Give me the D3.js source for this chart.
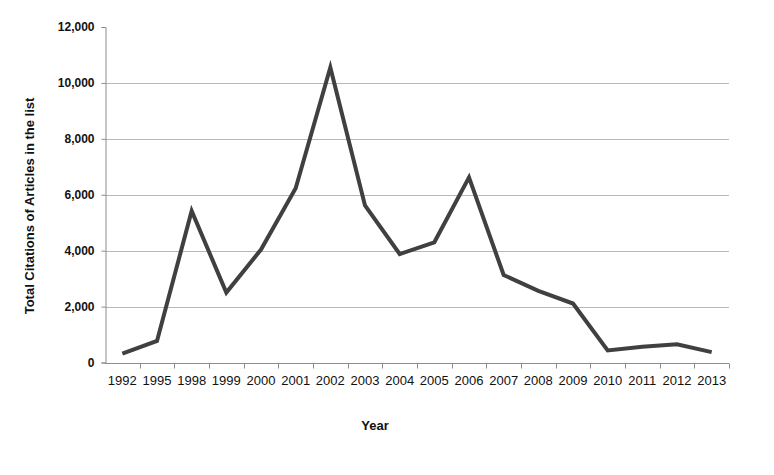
<!DOCTYPE html>
<html>
<head>
<meta charset="utf-8">
<script src="https://cdn.jsdelivr.net/npm/d3@7"></script>
<style>
  body { margin: 0; background: #fff; }
  svg { display: block; font-family: "Liberation Sans", Arial, sans-serif; }
</style>
</head>
<body>
<div class="chart"></div>
<script>
// data
var years = ["1992","1995","1998","1999","2000","2001","2002","2003","2004","2005",
             "2006","2007","2008","2009","2010","2011","2012","2013"];
var citations = [320, 770, 5420, 2500, 4040, 6230, 10550, 5620, 3880, 4300,
                 6620, 3130, 2560, 2110, 430, 560, 650, 370];
var yTicks = [0, 2000, 4000, 6000, 8000, 10000, 12000];

var w = 774, h = 475;
var margin = {left: 105, right: 45, top: 27, bottom: 113};

var svg = d3.select(".chart").append("svg")
  .attr("width", w)
  .attr("height", h);

var x = d3.scaleBand()
  .domain(years)
  .range([margin.left, w - margin.right]);

var y = d3.scaleLinear()
  .domain([0, 12000])
  .range([h - margin.bottom + 0.5, margin.top]);

// gridlines
svg.append("g")
  .selectAll("line")
  .data(yTicks.filter(function(d){ return d > 0 && d < 12000; }))
  .enter()
  .append("line")
  .attr("x1", margin.left)
  .attr("x2", w - margin.right)
  .attr("y1", function(d){ return Math.round(y(d)) + 0.5; })
  .attr("y2", function(d){ return Math.round(y(d)) + 0.5; })
  .attr("stroke", "#b8b8b8")
  .attr("stroke-width", 1);

// y axis
var yAxis = svg.append("g")
  .attr("transform", "translate(" + (margin.left + 0.5) + ",0)")
  .call(d3.axisLeft(y).tickValues(yTicks).tickSize(4).tickPadding(7)
    .tickFormat(d3.format(",")));
yAxis.select(".domain").attr("stroke", "#8c8c8c");
yAxis.selectAll(".tick line").attr("stroke", "#8c8c8c");
yAxis.selectAll("text")
  .attr("font-size", "12px")
  .attr("font-weight", "bold")
  .attr("fill", "#111");

// x axis with ticks at category boundaries
var xAxis = svg.append("g")
  .attr("transform", "translate(0," + (Math.round(y(0)) + 0.5) + ")");
xAxis.append("line")
  .attr("x1", margin.left)
  .attr("x2", w - margin.right)
  .attr("stroke", "#8c8c8c");
xAxis.selectAll(".bound")
  .data(years)
  .enter()
  .append("line")
  .attr("class", "bound")
  .attr("x1", function(d){ return Math.round(x(d) + x.bandwidth()) + 0.5; })
  .attr("x2", function(d){ return Math.round(x(d) + x.bandwidth()) + 0.5; })
  .attr("y1", 0)
  .attr("y2", 5)
  .attr("stroke", "#8c8c8c");
xAxis.selectAll(".lbl")
  .data(years)
  .enter()
  .append("text")
  .attr("class", "lbl")
  .attr("x", function(d){ return x(d) + x.bandwidth() / 2; })
  .attr("y", 21)
  .attr("text-anchor", "middle")
  .attr("font-size", "13px")
  .attr("fill", "#111")
  .text(function(d){ return d; });

// line
var line = d3.line()
  .x(function(d, i){ return x(years[i]) + x.bandwidth() / 2; })
  .y(function(d){ return y(d); });

svg.append("path")
  .datum(citations)
  .attr("d", line)
  .attr("fill", "none")
  .attr("stroke", "#404040")
  .attr("stroke-width", 4)
  .attr("stroke-linejoin", "miter");

// axis titles
svg.append("text")
  .attr("x", 375)
  .attr("y", 430)
  .attr("text-anchor", "middle")
  .attr("font-size", "13px")
  .attr("font-weight", "bold")
  .attr("fill", "#111")
  .text("Year");

svg.append("text")
  .attr("transform", "translate(34,206) rotate(-90)")
  .attr("text-anchor", "middle")
  .attr("font-size", "13px")
  .attr("font-weight", "bold")
  .attr("fill", "#111")
  .text("Total Citations of Articles in the list");
</script>
</body>
</html>
